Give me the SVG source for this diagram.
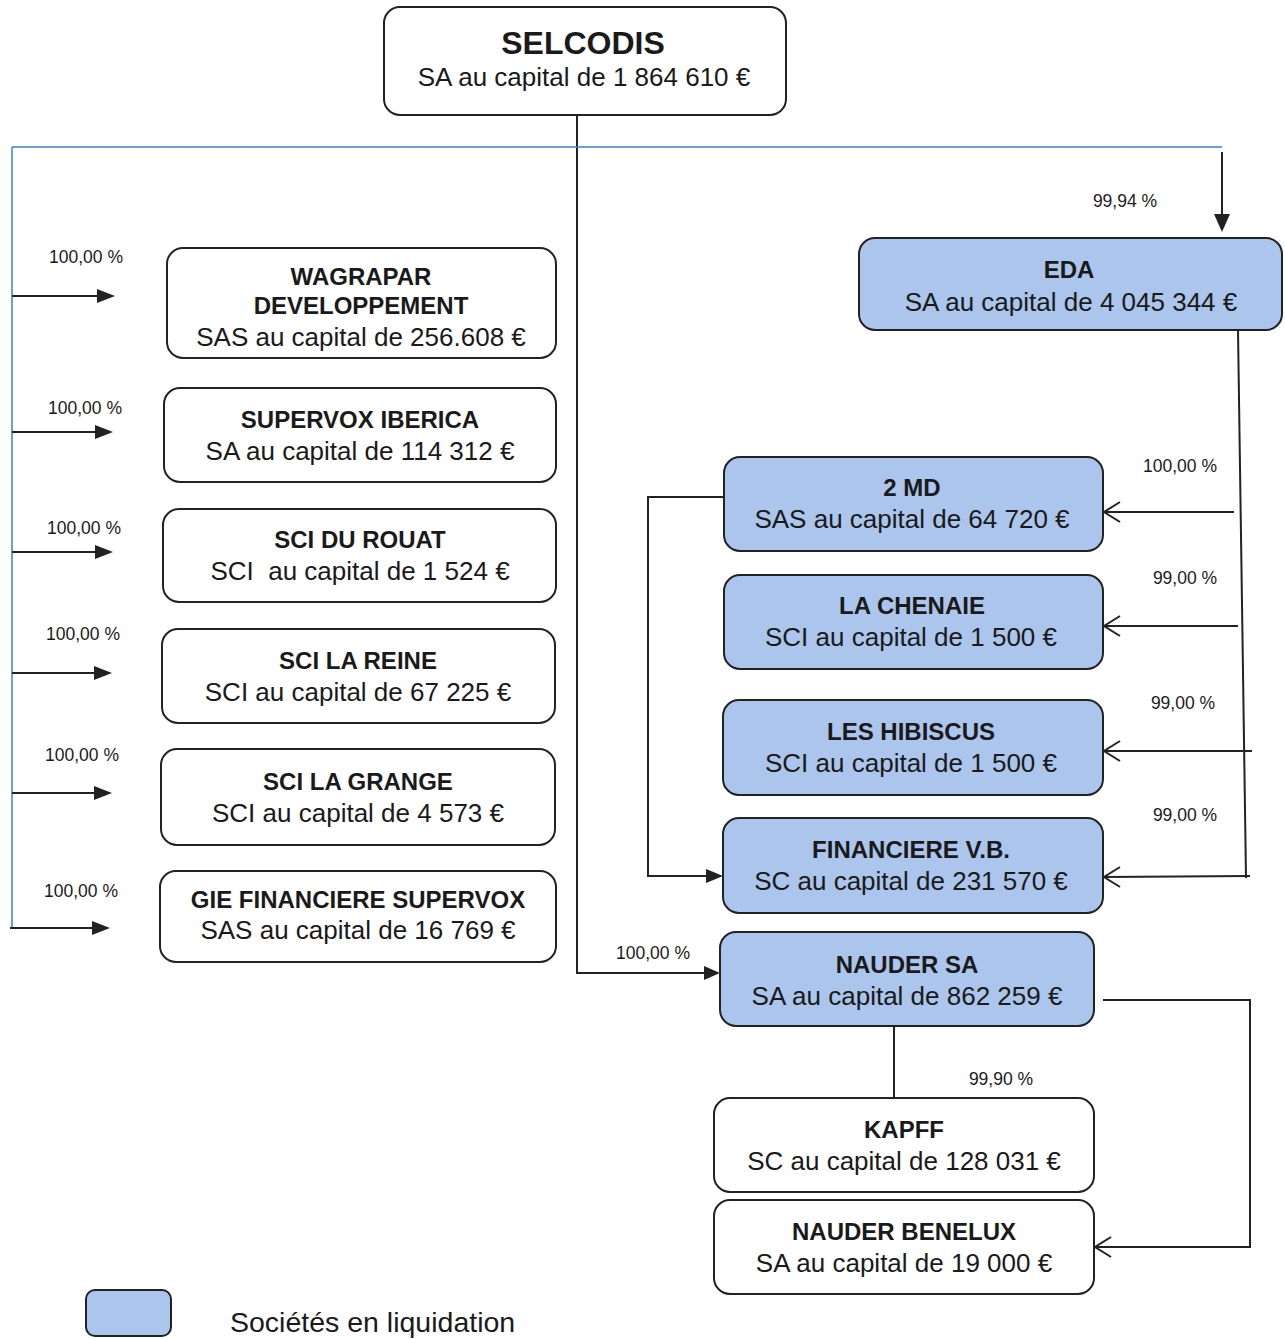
<svg xmlns="http://www.w3.org/2000/svg" width="1285" height="1339" viewBox="0 0 1285 1339">
<style>
  .box{fill:#ffffff;stroke:#222;stroke-width:2}
  .liq{fill:#abc5ec;stroke:#222;stroke-width:2}
  text{font-family:"Liberation Sans",Arial,sans-serif;fill:#1a1a1a;text-anchor:middle}
  .t{font-weight:bold;font-size:24px}
  .s{font-size:26px}
  .p{font-size:17.5px}
  .ln{fill:none;stroke:#222;stroke-width:2}
  .bl{fill:none;stroke:#3f7fcf;stroke-width:1.5}
</style>

<g id="connectors">
  <!-- main trunk to NAUDER SA -->
  <polyline class="ln" points="577,115 577,973 704,973"/>
  <path d="M704,966 L720,973 L704,980 Z" fill="#222"/>
  <!-- blue horizontal bus -->
  <polyline class="bl" points="12,147 1222,147"/>
  <polyline class="bl" points="12,147 12,928"/>
  <!-- to EDA -->
  <line class="ln" x1="1222" y1="152" x2="1222" y2="216"/>
  <path d="M1214,214 L1222,232 L1230,214 Z" fill="#222"/>
  <!-- left arrows -->
  <g>
    <line class="ln" x1="12" y1="296" x2="99" y2="296"/><path d="M97,289 L115,296 L97,303 Z" fill="#222"/>
    <line class="ln" x1="12" y1="432" x2="97" y2="432"/><path d="M95,425 L113,432 L95,439 Z" fill="#222"/>
    <line class="ln" x1="12" y1="552" x2="97" y2="552"/><path d="M95,545 L113,552 L95,559 Z" fill="#222"/>
    <line class="ln" x1="12" y1="673" x2="96" y2="673"/><path d="M94,666 L112,673 L94,680 Z" fill="#222"/>
    <line class="ln" x1="12" y1="793" x2="96" y2="793"/><path d="M94,786 L112,793 L94,800 Z" fill="#222"/>
    <line class="ln" x1="10" y1="928" x2="94" y2="928"/><path d="M92,921 L110,928 L92,935 Z" fill="#222"/>
  </g>
  <!-- EDA down trunk -->
  <line class="ln" x1="1238" y1="330" x2="1246" y2="878"/>
  <!-- right arrows (open) -->
  <line class="ln" x1="1234" y1="512" x2="1104" y2="512"/><path class="ln" d="M1120,502 L1104,512 L1120,522"/>
  <line class="ln" x1="1238" y1="626" x2="1104" y2="626"/><path class="ln" d="M1120,616 L1104,626 L1120,636"/>
  <line class="ln" x1="1252" y1="751" x2="1104" y2="751"/><path class="ln" d="M1120,741 L1104,751 L1120,761"/>
  <line class="ln" x1="1250" y1="876" x2="1104" y2="877"/><path class="ln" d="M1120,867 L1104,877 L1120,887"/>
  <!-- 2MD to FINANCIERE -->
  <polyline class="ln" points="724,497 648,497 648,876 707,876"/>
  <path d="M706,869 L723,876 L706,883 Z" fill="#222"/>
  <!-- NAUDER to KAPFF -->
  <line class="ln" x1="894" y1="1026" x2="894" y2="1098"/>
  <!-- NAUDER to BENELUX -->
  <polyline class="ln" points="1103,1000 1250,1000 1250,1247 1095,1247"/>
  <path class="ln" d="M1111,1237 L1095,1247 L1111,1257"/>
</g>

<g id="labels">
  <text class="p" x="1125" y="207">99,94 %</text>
  <text class="p" x="86" y="263">100,00 %</text>
  <text class="p" x="85" y="414">100,00 %</text>
  <text class="p" x="84" y="534">100,00 %</text>
  <text class="p" x="83" y="640">100,00 %</text>
  <text class="p" x="82" y="761">100,00 %</text>
  <text class="p" x="81" y="897">100,00 %</text>
  <text class="p" x="1180" y="472">100,00 %</text>
  <text class="p" x="1185" y="584">99,00 %</text>
  <text class="p" x="1183" y="709">99,00 %</text>
  <text class="p" x="1185" y="821">99,00 %</text>
  <text class="p" x="653" y="959">100,00 %</text>
  <text class="p" x="1001" y="1085">99,90 %</text>
</g>

<g id="selcodis">
  <rect class="box" x="384" y="7" width="402" height="108" rx="16"/>
  <text x="583" y="54" style="font-weight:bold;font-size:32px">SELCODIS</text>
  <text class="s" x="584" y="86">SA au capital de 1 864 610 €</text>
</g>

<g id="wagrapar">
  <rect class="box" x="167" y="248" width="389" height="110" rx="16"/>
  <text class="t" x="361" y="285">WAGRAPAR</text>
  <text class="t" x="361" y="314">DEVELOPPEMENT</text>
  <text class="s" x="361" y="346">SAS au capital de 256.608 €</text>
</g>
<g id="supervox-iberica">
  <rect class="box" x="164" y="388" width="392" height="94" rx="16"/>
  <text class="t" x="360" y="428">SUPERVOX IBERICA</text>
  <text class="s" x="360" y="460">SA au capital de 114 312 €</text>
</g>
<g id="sci-du-rouat">
  <rect class="box" x="163" y="509" width="393" height="93" rx="16"/>
  <text class="t" x="360" y="548">SCI DU ROUAT</text>
  <text class="s" x="360" y="580">SCI&#160; au capital de 1 524 €</text>
</g>
<g id="sci-la-reine">
  <rect class="box" x="162" y="629" width="393" height="94" rx="16"/>
  <text class="t" x="358" y="669">SCI LA REINE</text>
  <text class="s" x="358" y="701">SCI au capital de 67 225 €</text>
</g>
<g id="sci-la-grange">
  <rect class="box" x="161" y="749" width="394" height="96" rx="16"/>
  <text class="t" x="358" y="790">SCI LA GRANGE</text>
  <text class="s" x="358" y="822">SCI au capital de 4 573 €</text>
</g>
<g id="gie-financiere-supervox">
  <rect class="box" x="160" y="871" width="396" height="91" rx="16"/>
  <text class="t" x="358" y="908">GIE FINANCIERE SUPERVOX</text>
  <text class="s" x="358" y="939">SAS au capital de 16 769 €</text>
</g>

<g id="eda">
  <rect class="liq" x="859" y="238" width="423" height="92" rx="16"/>
  <text class="t" x="1069" y="278">EDA</text>
  <text class="s" x="1071" y="311">SA au capital de 4 045 344 €</text>
</g>
<g id="md2">
  <rect class="liq" x="724" y="457" width="379" height="94" rx="16"/>
  <text class="t" x="912" y="496">2 MD</text>
  <text class="s" x="912" y="528">SAS au capital de 64 720 €</text>
</g>
<g id="la-chenaie">
  <rect class="liq" x="724" y="575" width="379" height="94" rx="16"/>
  <text class="t" x="912" y="614">LA CHENAIE</text>
  <text class="s" x="911" y="646">SCI au capital de 1 500 €</text>
</g>
<g id="les-hibiscus">
  <rect class="liq" x="723" y="700" width="380" height="95" rx="16"/>
  <text class="t" x="911" y="740">LES HIBISCUS</text>
  <text class="s" x="911" y="772">SCI au capital de 1 500 €</text>
</g>
<g id="financiere-vb">
  <rect class="liq" x="723" y="818" width="380" height="95" rx="16"/>
  <text class="t" x="911" y="858">FINANCIERE V.B.</text>
  <text class="s" x="911" y="890">SC au capital de 231 570 €</text>
</g>
<g id="nauder-sa">
  <rect class="liq" x="720" y="932" width="374" height="94" rx="16"/>
  <text class="t" x="907" y="973">NAUDER SA</text>
  <text class="s" x="907" y="1005">SA au capital de 862 259 €</text>
</g>
<g id="kapff">
  <rect class="box" x="714" y="1098" width="380" height="94" rx="16"/>
  <text class="t" x="904" y="1138">KAPFF</text>
  <text class="s" x="904" y="1170">SC au capital de 128 031 €</text>
</g>
<g id="nauder-benelux">
  <rect class="box" x="714" y="1200" width="380" height="94" rx="16"/>
  <text class="t" x="904" y="1240">NAUDER BENELUX</text>
  <text class="s" x="904" y="1272">SA au capital de 19 000 €</text>
</g>

<g id="legend">
  <rect class="liq" x="86" y="1290" width="85" height="46" rx="9"/>
  <text x="230" y="1332" style="font-size:28.5px;text-anchor:start">Sociétés en liquidation</text>
</g>
</svg>
